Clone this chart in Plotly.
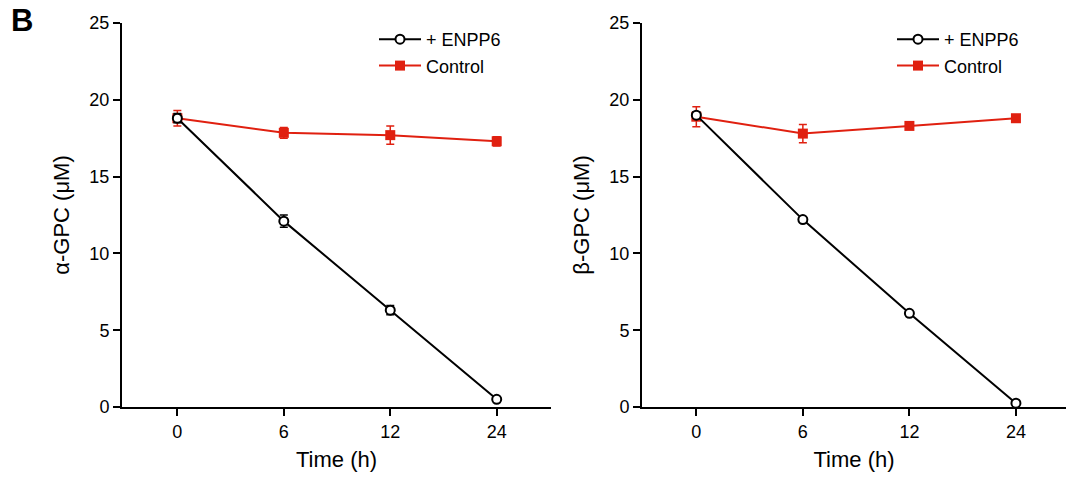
import plotly.graph_objects as go

time_labels = ["0", "6", "12", "24"]

alpha_enpp6 = [18.8, 12.1, 6.3, 0.5]
alpha_enpp6_err = [0.3, 0.4, 0.3, 0.1]
alpha_ctrl = [18.8, 17.85, 17.7, 17.3]
alpha_ctrl_err = [0.5, 0.35, 0.6, 0.3]

beta_enpp6 = [19.0, 12.2, 6.1, 0.25]
beta_enpp6_err = [0.2, 0.1, 0.1, 0.05]
beta_ctrl = [18.9, 17.8, 18.3, 18.8]
beta_ctrl_err = [0.65, 0.6, 0.2, 0.2]

RED = "#e02010"
FONT = "Liberation Sans, Arial, sans-serif"

fig = go.Figure()

def add_panel(xa, ya, enpp, enpp_err, ctrl, ctrl_err, legend):
    fig.add_trace(go.Scatter(
        x=time_labels, y=ctrl, xaxis=xa, yaxis=ya, name="Control", legend=legend,
        mode="lines+markers",
        line=dict(color=RED, width=2),
        marker=dict(symbol="square", size=10, color=RED),
        error_y=dict(type="data", array=ctrl_err, color=RED, thickness=1.5, width=4),
        legendrank=2,
    ))
    fig.add_trace(go.Scatter(
        x=time_labels, y=enpp, xaxis=xa, yaxis=ya, name="+ ENPP6", legend=legend,
        mode="lines+markers",
        line=dict(color="black", width=2),
        marker=dict(symbol="circle", size=9, color="white", line=dict(color="black", width=2)),
        error_y=dict(type="data", array=enpp_err, color="black", thickness=1.5, width=4),
        legendrank=1,
    ))

add_panel("x", "y", alpha_enpp6, alpha_enpp6_err, alpha_ctrl, alpha_ctrl_err, "legend")
add_panel("x2", "y2", beta_enpp6, beta_enpp6_err, beta_ctrl, beta_ctrl_err, "legend2")

ydom = [(478 - 407) / 478, (478 - 23) / 478]
axis_common = dict(
    showline=True, linecolor="black", linewidth=2, ticks="outside", ticklen=7,
    tickwidth=2, tickcolor="black", showgrid=False, zeroline=False, automargin=False,
    tickfont=dict(family=FONT, size=18, color="black"),
)

leg_common = dict(font=dict(family=FONT, size=18, color="black"), bgcolor="rgba(0,0,0,0)",
                  itemwidth=42, xanchor="left", yanchor="top")

fig.update_layout(
    width=1066, height=478,
    margin=dict(l=0, r=0, t=0, b=0),
    plot_bgcolor="white", paper_bgcolor="white",
    font=dict(family=FONT, color="black"),
    xaxis=dict(domain=[122 / 1066, 551 / 1066], type="category", range=[-0.52, 3.51],
               title=dict(text="Time (h)", font=dict(size=22), standoff=11), anchor="y", **axis_common),
    yaxis=dict(domain=ydom, range=[0, 25], tickvals=[0, 5, 10, 15, 20, 25], anchor="x",
               title=dict(text="α-GPC (μM)", font=dict(size=22), standoff=14), **axis_common),
    xaxis2=dict(domain=[642 / 1066, 1.0], type="category", range=[-0.51, 3.47],
                title=dict(text="Time (h)", font=dict(size=22), standoff=11), anchor="y2", **axis_common),
    yaxis2=dict(domain=ydom, range=[0, 25], tickvals=[0, 5, 10, 15, 20, 25], anchor="x2",
                title=dict(text="β-GPC (μM)", font=dict(size=22), standoff=14), **axis_common),
    legend=dict(x=374 / 1066, y=1 - 21 / 478, **leg_common),
    legend2=dict(x=892 / 1066, y=1 - 21 / 478, **leg_common),
    annotations=[dict(text="<b>B</b>", x=9 / 1066, y=1 - 1 / 478, xref="paper", yref="paper",
                      xanchor="left", yanchor="top", showarrow=False,
                      font=dict(family=FONT, size=31, color="black"))],
)

fig.write_html("out.html")
